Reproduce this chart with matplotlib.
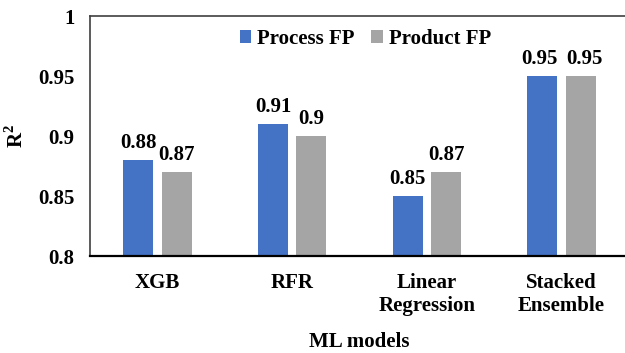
import numpy as np
import matplotlib
matplotlib.use("Agg")
import matplotlib.pyplot as plt

models = ["XGB", "RFR", "Linear\nRegression", "Stacked\nEnsemble"]
process_fp = [0.88, 0.91, 0.85, 0.95]
product_fp = [0.87, 0.90, 0.87, 0.95]
value_labels_process = ["0.88", "0.91", "0.85", "0.95"]
value_labels_product = ["0.87", "0.9", "0.87", "0.95"]
y_ticks = [0.8, 0.85, 0.9, 0.95, 1.0]
y_tick_labels = ["0.8", "0.85", "0.9", "0.95", "1"]

plt.rcParams["font.family"] = ["Liberation Serif", "DejaVu Serif"]
plt.rcParams["font.weight"] = "bold"

fig = plt.figure(figsize=(6.25, 3.53), dpi=100)
ax = fig.add_axes([90 / 625, 97 / 353, 539 / 625, 240 / 353])

x = np.arange(len(models))
width = 0.2226
offset = 0.142
blue = "#4472C4"
grey = "#A5A5A5"

b1 = ax.bar(x - offset, process_fp, width, color=blue, label="Process FP")
b2 = ax.bar(x + offset, product_fp, width, color=grey, label="Product FP")

# labels above each bar; nudge apart where both bars are equally tall
for side, bars, labels in ((-1, b1, value_labels_process), (1, b2, value_labels_product)):
    for i, (bar, txt) in enumerate(zip(bars, labels)):
        dx = 2.5 * side if process_fp[i] == product_fp[i] else 0
        ax.annotate(txt, (bar.get_x() + bar.get_width() / 2, bar.get_height()),
                    xytext=(dx, 5), textcoords="offset points",
                    ha="center", va="bottom", fontsize=15, fontweight="bold")

ax.set_xlim(-0.5, 3.5)
ax.set_ylim(0.8, 1.0)
ax.set_yticks(y_ticks)
ax.set_yticklabels(y_tick_labels)
ax.set_xticks(x)
ax.set_xticklabels(models, linespacing=1.25)
ax.tick_params(axis="y", length=0, pad=11, labelsize=15)
ax.tick_params(axis="x", length=0, pad=12, labelsize=15)

for side in ("left", "top"):
    ax.spines[side].set_color("#404040")
    ax.spines[side].set_linewidth(1.2)
ax.spines["bottom"].set_color("black")
ax.spines["bottom"].set_linewidth(1.6)
ax.spines["right"].set_visible(False)

ax.set_xlabel("ML models", fontsize=15, fontweight="bold", labelpad=11)
ax.set_ylabel("R$^\\mathregular{2}$", fontsize=15, fontweight="bold")
ax.yaxis.set_label_coords(-0.115, 0.5)

ax.legend(loc="center", bbox_to_anchor=(365.5 / 625, 314 / 353),
          bbox_transform=fig.transFigure, ncol=2, frameon=False,
          fontsize=15, handlelength=0.55, handleheight=0.55,
          handletextpad=0.3, columnspacing=0.8)

fig.savefig("out.png", dpi=100)
